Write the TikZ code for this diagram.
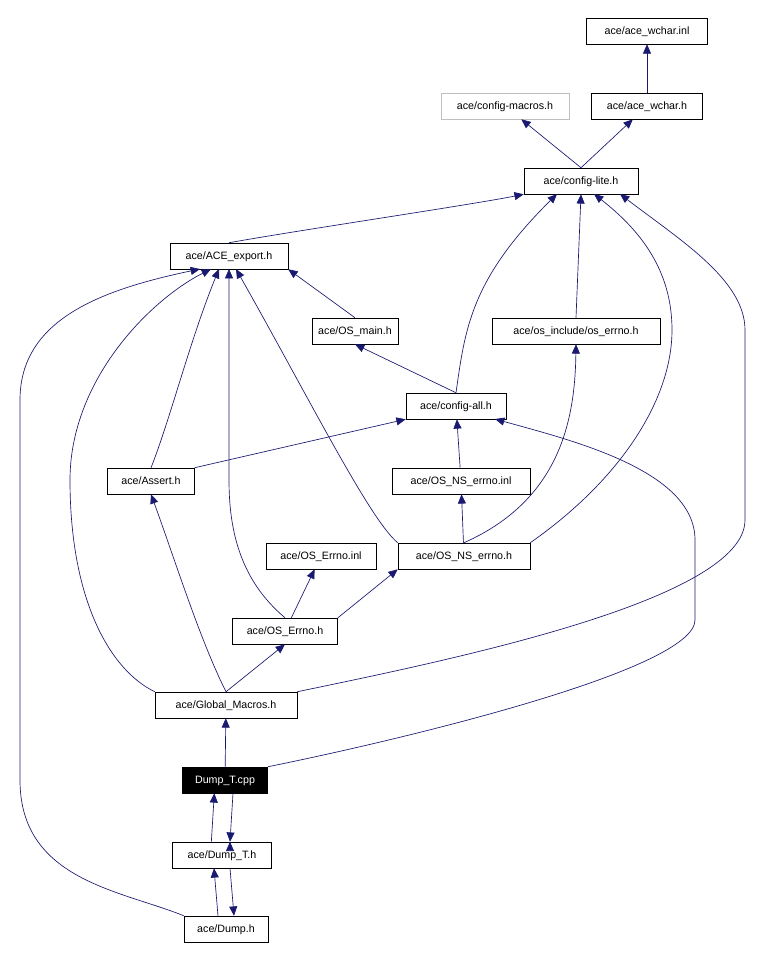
\documentclass[tikz,border=0pt]{standalone}
\usepackage{fontspec}
\setmainfont{Liberation Sans}
\usetikzlibrary{arrows.meta}
\definecolor{edgeblue}{HTML}{191970}
\begin{document}
\begin{tikzpicture}[x=0.75pt, y=-0.75pt,
  file/.style={rectangle, draw, fill=white, inner sep=0pt, minimum height=19.5pt, font=\fontsize{8}{9}\selectfont, text height=6.5pt, text depth=1.5pt},
  dep/.style={draw=edgeblue, -{Triangle[length=7pt, width=6pt]}, line width=0.5pt}]
\useasboundingbox (0,0) rectangle (766,958);

\node[file, minimum width=91pt] (inl) at (647,31) {ace/ace\_wchar.inl};
\node[file, draw=gray!50, minimum width=96pt] (macros) at (505,106) {ace/config-macros.h};
\node[file, minimum width=83pt] (wchar) at (647,106) {ace/ace\_wchar.h};
\node[file, minimum width=85.5pt] (lite) at (581,181) {ace/config-lite.h};
\node[file, minimum width=88.5pt] (export) at (229,256) {ace/ACE\_export.h};
\node[file, minimum width=64.5pt] (osmain) at (355,331) {ace/OS\_main.h};
\node[file, minimum width=126pt] (oserrno) at (576,331) {ace/os\_include/os\_errno.h};
\node[file, minimum width=75pt] (cfgall) at (456,406) {ace/config-all.h};
\node[file, minimum width=65pt] (assert) at (151,481) {ace/Assert.h};
\node[file, minimum width=103.5pt] (nsinl) at (461,481) {ace/OS\_NS\_errno.inl};
\node[file, minimum width=82.5pt] (errinl) at (321,556) {ace/OS\_Errno.inl};
\node[file, minimum width=99pt] (nsh) at (464,556) {ace/OS\_NS\_errno.h};
\node[file, minimum width=79pt] (errh) at (285,631) {ace/OS\_Errno.h};
\node[file, minimum width=106.5pt] (glob) at (226,705) {ace/Global\_Macros.h};
\node[file, fill=black, text=white, minimum width=64pt] (dumpt) at (225,780) {Dump\_T.cpp};
\node[file, minimum width=74pt] (dumpth) at (222,855) {ace/Dump\_T.h};
\node[file, minimum width=63pt] (dumph) at (226,929) {ace/Dump.h};

% includes
\draw[dep] (wchar) -- (inl);
\draw[dep] (lite.north) -- (macros);
\draw[dep] (lite.north) -- (wchar);
\draw[dep] (export.north) .. controls (300,230) and (470,205) .. (lite.south west);
\draw[dep] (osmain.north) -- (export.south east);
\draw[dep] (oserrno.north) -- (lite.south);
\draw[dep] (cfgall.north) -- (osmain.south);
\draw[dep] (cfgall.north) .. controls (465,330) and (470,280) .. (557,194);
\draw[dep] (assert.north) .. controls (170,420) and (190,340) .. (219,269);
\draw[dep] (assert.north east) -- (cfgall.south west);
\draw[dep] (nsinl) -- (cfgall);
\draw[dep] (nsh) -- (nsinl);
\draw[dep] (nsh.north west) .. controls (370,520) and (310,400) .. (236,269);
\draw[dep] (nsh.north) .. controls (560,500) and (575,420) .. (oserrno.south);
\draw[dep] (nsh.north east) .. controls (620,480) and (672,400) .. (672,330) .. controls (672,270) and (640,230) .. (594,194);
\draw[dep] (errh) -- (errinl);
\draw[dep] (errh.north east) -- (nsh.south west);
\draw[dep] (errh.north) .. controls (240,580) and (229,530) .. (229,480) -- (229,269);
\draw[dep] (glob.north west) .. controls (110,670) and (70,600) .. (70,480) .. controls (70,380) and (150,300) .. (211,269);
\draw[dep] (glob.north) .. controls (200,640) and (175,560) .. (assert.south);
\draw[dep] (glob.north) -- (errh.south);
\draw[dep] (glob.north east) .. controls (450,660) and (745,600) .. (745,520) -- (745,330) .. controls (745,280) and (680,240) .. (620,194);
\draw[dep] (dumpt) -- (glob);
\draw[dep] (dumpt.north east) .. controls (400,740) and (695,670) .. (695,620) -- (695,540) .. controls (695,470) and (570,440) .. (495,419);
\draw[dep] (dumpt.south) ++(8,0) coordinate (dts) (dumpth.north) ++(8,0) coordinate (dthn);
\draw[dep] (dts) -- (dthn);
\draw[dep] ([xshift=-8pt]dumpth.north) -- ([xshift=-8pt]dumpt.south);
\draw[dep] ([xshift=6pt]dumpth.south) -- ([xshift=6pt]dumph.north);
\draw[dep] ([xshift=-6pt]dumph.north) -- ([xshift=-6pt]dumpth.south);
\draw[dep] (dumph.north west) .. controls (120,890) and (20,880) .. (20,780) -- (20,400) .. controls (20,320) and (100,290) .. (200,269);
\end{tikzpicture}
\end{document}
